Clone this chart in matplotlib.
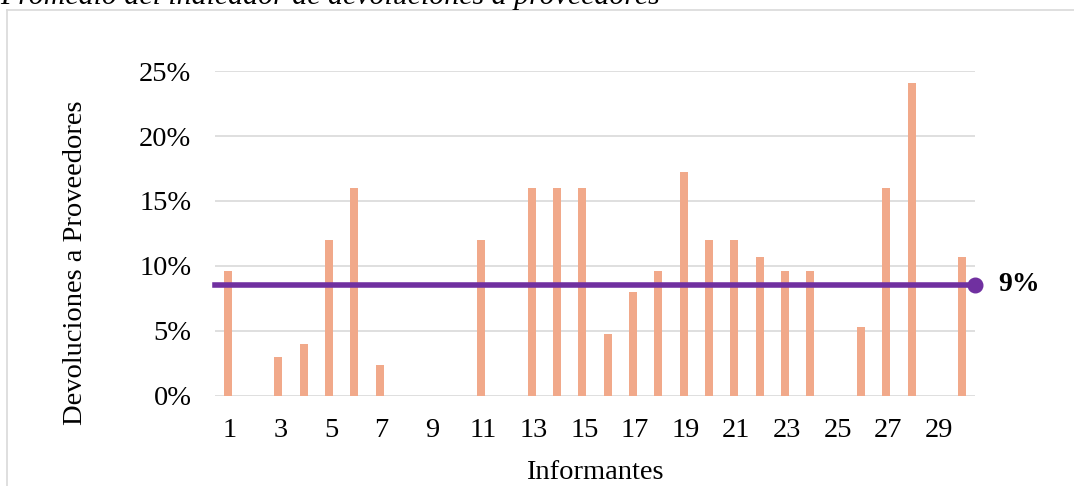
import matplotlib.pyplot as plt
from matplotlib.lines import Line2D
from matplotlib.ticker import PercentFormatter

plt.rcParams['font.family'] = ['Liberation Serif', 'DejaVu Serif']

informantes = list(range(1, 31))
devoluciones = [9.6, 0, 3.0, 4.0, 12.0, 16.0, 2.4, 0, 0, 0,
                12.0, 0, 16.0, 16.0, 16.0, 4.8, 8.0, 9.6, 17.2, 12.0,
                12.0, 10.7, 9.6, 9.6, 0, 5.3, 16.0, 24.1, 0, 10.7]
tick_labels = [str(i) for i in range(1, 30, 2)]

promedio = sum(devoluciones) / len(devoluciones)

fig = plt.figure(figsize=(10.74, 4.86), dpi=100)
ax = fig.add_axes([0.2002, 0.1852, 0.7076, 0.6687])

ax.bar(informantes, devoluciones, width=0.32, color='#F1A98A', zorder=2)
ax.plot([0.5, 30.5], [promedio, promedio], color='#7030A0', lw=4,
        marker='o', markersize=10.5, markevery=[1], zorder=3, clip_on=False)
ax.annotate(f'{promedio:.0f}%', xy=(30.5, promedio), xytext=(17, 0),
            textcoords='offset points', va='center', ha='left',
            fontsize=20, fontweight='bold', annotation_clip=False)

ax.set_xlim(0.5, 30.5)
ax.set_ylim(0, 25)
ax.set_yticks([0, 5, 10, 15, 20, 25])
ax.yaxis.set_major_formatter(PercentFormatter(decimals=0))
ax.set_xticks([i + 0.08 for i in range(1, 30, 2)])
ax.set_xticklabels(tick_labels)
ax.grid(axis='y', color='#D9D9D9', lw=1.2, zorder=0)
ax.set_axisbelow(True)
for s in ax.spines.values():
    s.set_visible(False)
ax.tick_params(length=0, labelsize=20.5)
ax.tick_params(axis='x', pad=16)
ax.tick_params(axis='y', pad=17)

ax.set_xlabel('Informantes', fontsize=20.5, labelpad=12)
ax.set_ylabel('Devoluciones a Proveedores', fontsize=20.5)
ax.yaxis.set_label_coords(-0.167, 0.41)

# outer chart frame (only top and left edges fall inside the image)
fig.add_artist(Line2D([7 / 1074, 7 / 1074], [0, 1 - 10 / 486],
                      color='#D9D9D9', lw=1.2, transform=fig.transFigure))
fig.add_artist(Line2D([7 / 1074, 1], [1 - 10 / 486, 1 - 10 / 486],
                      color='#D9D9D9', lw=1.2, transform=fig.transFigure))

fig.text(0.0, 1 - 4 / 486, 'Promedio del indicador de devoluciones a proveedores',
         fontsize=21.5, style='italic', va='baseline', ha='left')

fig.savefig('out.png', dpi=100)
